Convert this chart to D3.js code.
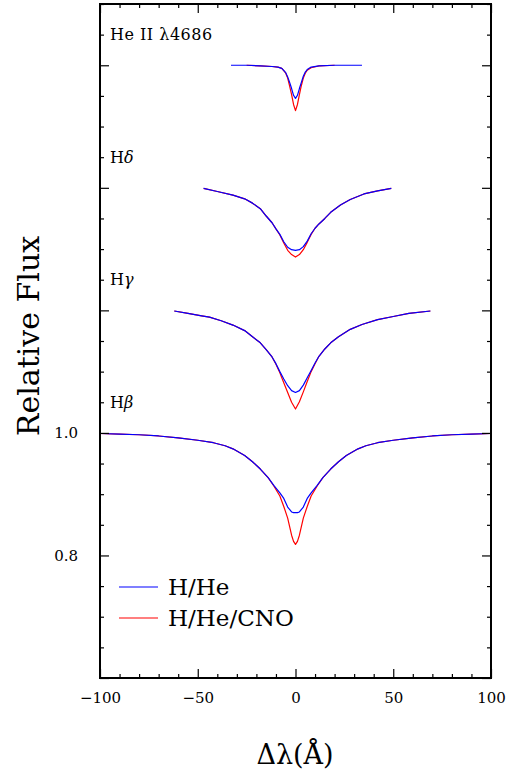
<!DOCTYPE html>
<html><head><meta charset="utf-8">
<script src="https://cdn.jsdelivr.net/npm/d3@7"></script>
<style>
body{margin:0;background:#fff;}
svg{display:block;}
text{font-family:"DejaVu Serif",serif;fill:#000;}
</style></head>
<body><svg id="c" width="507" height="773"></svg>
<script>
// ---- data ----
const lineBase = ["H", "H", "H", "He II \u03bb4686"];
const lineGreek = ["\u03b2", "\u03b3", "\u03b4", ""];
const lineOffsets = [0, 0.2, 0.4, 0.6];
const seriesNames = ["H/He", "H/He/CNO"];
const seriesColors = ["#0000ff", "#ff0000"];
const xTickLabels = [-100, -50, 0, 50, 100];
const yTickLabels = [0.8, 1.0];

// H beta
const hbWave = [-100,-90,-80,-70,-60,-50,-42,-36,-32,-26,-22,-18,-14,-11,-8,-6,-4,-2,-1,0,1,2,4,6,8,11,14,18,22,26,32,36,42,50,60,70,80,90,100];
const hbHHe  = [0.999,0.998,0.997,0.995,0.992,0.988,0.984,0.979,0.974,0.963,0.953,0.941,0.927,0.914,0.902,0.893,0.879,0.871,0.870,0.870,0.870,0.871,0.879,0.893,0.902,0.914,0.927,0.941,0.953,0.963,0.974,0.979,0.984,0.988,0.992,0.995,0.997,0.998,0.999];
const hbCNO  = [0.999,0.998,0.997,0.995,0.992,0.988,0.984,0.979,0.974,0.963,0.953,0.941,0.927,0.913,0.897,0.880,0.861,0.833,0.823,0.818,0.823,0.833,0.861,0.880,0.897,0.913,0.927,0.941,0.953,0.963,0.974,0.979,0.984,0.988,0.992,0.995,0.997,0.998,0.999];
// H gamma
const hgWave = [-62,-55,-48,-44,-38,-32,-26,-22,-18,-15,-12,-10,-8,-6,-4,-2,0,2,4,6,8,10,12,15,18,22,28,34,42,50,58,69];
const hgHHe  = [0.999,0.995,0.991,0.989,0.983,0.976,0.967,0.957,0.947,0.936,0.924,0.913,0.900,0.888,0.877,0.869,0.866,0.869,0.878,0.890,0.902,0.914,0.925,0.937,0.947,0.957,0.969,0.977,0.985,0.990,0.995,0.999];
const hgCNO  = [0.999,0.995,0.991,0.989,0.983,0.976,0.967,0.957,0.947,0.936,0.924,0.912,0.898,0.882,0.866,0.850,0.839,0.851,0.867,0.884,0.900,0.913,0.925,0.937,0.947,0.957,0.969,0.977,0.985,0.990,0.995,0.999];
// H delta
const hdWave = [-47,-40,-32,-26,-22,-18,-15,-12,-10,-8,-6,-4,-2,0,2,4,6,8,10,12,15,18,23,28,35,42,49];
const hdHHe  = [0.999,0.994,0.988,0.982,0.975,0.966,0.954,0.943,0.933,0.924,0.912,0.903,0.899,0.898,0.899,0.904,0.913,0.925,0.934,0.941,0.950,0.960,0.972,0.981,0.990,0.995,0.999];
const hdCNO  = [0.999,0.994,0.988,0.982,0.975,0.966,0.954,0.943,0.933,0.923,0.910,0.898,0.891,0.887,0.891,0.899,0.911,0.924,0.934,0.941,0.950,0.960,0.972,0.981,0.990,0.995,0.999];
// He II 4686
const heWave    = [-33,-25,-18,-12,-9,-7,-5,-4,-3,-2,-1,0,1,2,3,4,5,6,8,12,20,34];
const heHHe     = [1.0,1.0,0.999,0.998,0.997,0.995,0.988,0.981,0.972,0.962,0.951,0.946,0.951,0.962,0.972,0.982,0.989,0.993,0.997,0.999,1.0,1.0];
const heCNOWave = [-25,-18,-12,-9,-7,-5,-4,-3,-2,-1,0,1,2,3,4,5,6,8,12,20];
const heCNO     = [1.0,0.999,0.998,0.997,0.995,0.987,0.979,0.966,0.952,0.936,0.926,0.936,0.952,0.967,0.979,0.987,0.992,0.996,0.999,1.0];

// ---- chart ----
const svg = d3.select("#c");
const L = 100, R = 491, T = 4, B = 678;
const x = d3.scaleLinear().domain([-100, 100]).range([L, R]);
const y = d3.scaleLinear().domain([0.6, 1.7]).range([B, T]);

const profiles = [
  {wave: [hbWave, hbWave], flux: [hbHHe, hbCNO]},
  {wave: [hgWave, hgWave], flux: [hgHHe, hgCNO]},
  {wave: [hdWave, hdWave], flux: [hdHHe, hdCNO]},
  {wave: [heWave, heCNOWave], flux: [heHHe, heCNO]}
];

const line = d3.line().x(d => x(d[0])).y(d => y(d[1]));
[1, 0].forEach(s => {
  profiles.forEach((p, i) => {
    const pts = p.wave[s].map((w, k) => [w, p.flux[s][k] + lineOffsets[i]]);
    svg.append("path").datum(pts).attr("d", line)
      .attr("fill", "none").attr("stroke", seriesColors[s]).attr("stroke-width", 1.2)
      .attr("stroke-linejoin", "round");
  });
});

// axes
const xMajor = d3.range(-100, 101, 50);
const xMinor = d3.range(-100, 101, 10).filter(v => v % 50 !== 0);
const yMajor = [0.6, 0.8, 1.0, 1.2, 1.4, 1.6];
const yMinor = d3.range(0, 23).map(k => 0.6 + k * 0.05).filter(v => !yMajor.some(m => Math.abs(m - v) < 1e-6) && v <= 1.7 + 1e-9);

function styleAxis(g) {
  g.select(".domain").remove();
  g.selectAll(".tick line").attr("stroke", "#000").attr("stroke-width", 1.2);
}
svg.append("g").attr("transform", `translate(0,${B})`)
  .call(d3.axisBottom(x).tickValues(xTickLabels).tickSize(-9).tickPadding(14).tickFormat(d3.format("d")))
  .call(styleAxis)
  .call(g => g.selectAll("text").attr("font-family", "DejaVu Serif").attr("font-size", 15).attr("fill", "#000"));
svg.append("g").attr("transform", `translate(0,${B})`)
  .call(d3.axisBottom(x).tickValues(xMinor).tickSize(-4).tickFormat(""))
  .call(styleAxis);
svg.append("g").attr("transform", `translate(0,${T})`)
  .call(d3.axisTop(x).tickValues(xMajor).tickSize(-9).tickFormat(""))
  .call(styleAxis);
svg.append("g").attr("transform", `translate(0,${T})`)
  .call(d3.axisTop(x).tickValues(xMinor).tickSize(-4).tickFormat(""))
  .call(styleAxis);

svg.append("g").attr("transform", `translate(${L},0)`)
  .call(d3.axisLeft(y).tickValues(yTickLabels).tickSize(-9).tickPadding(22).tickFormat(d3.format(".1f")))
  .call(styleAxis)
  .call(g => g.selectAll("text").attr("font-family", "DejaVu Serif").attr("font-size", 15).attr("fill", "#000"));
svg.append("g").attr("transform", `translate(${L},0)`)
  .call(d3.axisLeft(y).tickValues(yMajor.filter(v => !yTickLabels.includes(v))).tickSize(-9).tickFormat(""))
  .call(styleAxis);
svg.append("g").attr("transform", `translate(${L},0)`)
  .call(d3.axisLeft(y).tickValues(yMinor).tickSize(-4).tickFormat(""))
  .call(styleAxis);
svg.append("g").attr("transform", `translate(${R},0)`)
  .call(d3.axisRight(y).tickValues(yMajor).tickSize(-9).tickFormat(""))
  .call(styleAxis);
svg.append("g").attr("transform", `translate(${R},0)`)
  .call(d3.axisRight(y).tickValues(yMinor).tickSize(-4).tickFormat(""))
  .call(styleAxis);

// frame
svg.append("rect").attr("x", L).attr("y", T).attr("width", R - L).attr("height", B - T)
  .attr("fill", "none").attr("stroke", "#000").attr("stroke-width", 2);

// line labels
lineBase.forEach((n, i) => {
  const t = svg.append("text").attr("x", 110).attr("y", y(1 + lineOffsets[i]) - 25)
    .attr("font-size", 16).attr("letter-spacing", i === 3 ? 0.5 : 0);
  t.append("tspan").text(n);
  if (lineGreek[i]) t.append("tspan").attr("font-style", "italic").text(lineGreek[i]);
});

// legend
seriesNames.forEach((n, s) => {
  const ly = 587 + s * 31;
  svg.append("line").attr("x1", 119).attr("x2", 158).attr("y1", ly).attr("y2", ly)
    .attr("stroke", seriesColors[s]).attr("stroke-width", 1.2);
  svg.append("text").attr("x", 168).attr("y", ly + 8).attr("font-size", 23).text(n);
});

// axis titles
svg.append("text").attr("transform", "translate(39,336) rotate(-90)")
  .attr("text-anchor", "middle").attr("font-size", 30).attr("font-weight", 300).text("Relative Flux");
svg.append("text").attr("x", 295).attr("y", 764).attr("text-anchor", "middle")
  .attr("font-size", 27).text("\u0394\u03bb(\u00c5)");
</script></body></html>
